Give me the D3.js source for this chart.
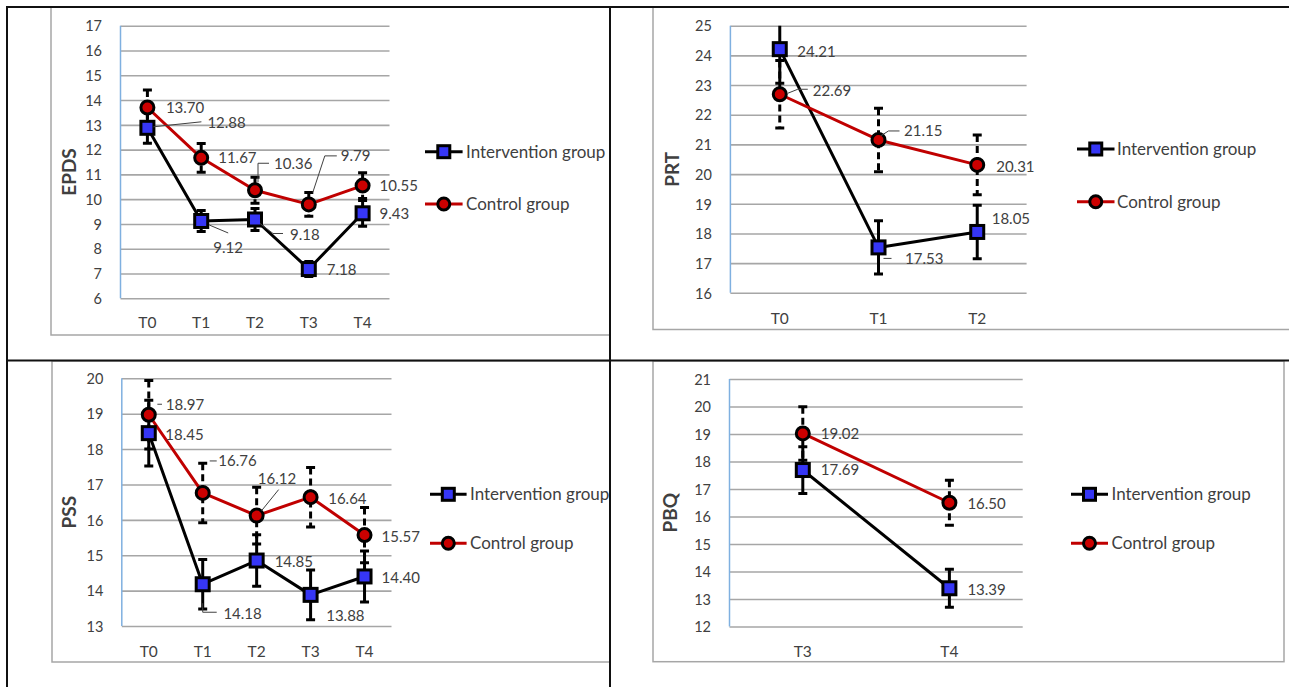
<!DOCTYPE html>
<html><head><meta charset="utf-8">
<script src="https://cdn.jsdelivr.net/npm/d3@7"></script>
<style>
body{margin:0;background:#fff}
svg{display:block}
text{font-family:Lato,"Open Sans",sans-serif;fill:#404040}
</style>
</head><body><svg id="c" width="1289" height="687"></svg>
<script>
// ---------- DATA ----------
const seriesNames = ["Intervention group", "Control group"];

const epdsCategories = ["T0", "T1", "T2", "T3", "T4"];
const epdsIntervention = [12.88, 9.12, 9.18, 7.18, 9.43];
const epdsControl = [13.70, 11.67, 10.36, 9.79, 10.55];
const epdsInterventionError = [0.62, 0.42, 0.44, 0.30, 0.52];
const epdsControlError = [0.71, 0.58, 0.52, 0.48, 0.52];
const epdsTicks = [6, 7, 8, 9, 10, 11, 12, 13, 14, 15, 16, 17];

const prtCategories = ["T0", "T1", "T2"];
const prtIntervention = [24.21, 17.53, 18.05];
const prtControl = [22.69, 21.15, 20.31];
const prtInterventionError = [1.15, 0.90, 0.90];
const prtControlError = [1.14, 1.07, 1.01];
const prtTicks = [16, 17, 18, 19, 20, 21, 22, 23, 24, 25];

const pssCategories = ["T0", "T1", "T2", "T3", "T4"];
const pssIntervention = [18.45, 14.18, 14.85, 13.88, 14.40];
const pssControl = [18.97, 16.76, 16.12, 16.64, 15.57];
const pssInterventionError = [0.93, 0.70, 0.73, 0.70, 0.72];
const pssControlError = [0.97, 0.84, 0.80, 0.84, 0.78];
const pssTicks = [13, 14, 15, 16, 17, 18, 19, 20];

const pbqCategories = ["T3", "T4"];
const pbqIntervention = [17.69, 13.39];
const pbqControl = [19.02, 16.50];
const pbqInterventionError = [0.85, 0.69];
const pbqControlError = [0.97, 0.82];
const pbqTicks = [12, 13, 14, 15, 16, 17, 18, 19, 20, 21];

// ---------- LAYOUT (label offsets relative to each point, leader paths) ----------
const epdsLabelsInt = [
  {dx: 60, dy: -5, lead: [[6,-1],[54,-6]]},
  {dx: 12, dy: 27, lead: [[8,4],[27,12]]},
  {dx: 35, dy: 15.5, lead: [[5,4],[18,14],[28,14]]},
  {dx: 18, dy: 1},
  {dx: 17, dy: 0}
];
const epdsLabelsCtl = [
  {dx: 18.5, dy: 0.5},
  {dx: 17, dy: 0},
  {dx: 19, dy: -27, lead: [[3,-8],[3,-27],[14,-27]]},
  {dx: 32, dy: -48.5, lead: [[4,-12],[16,-48.5],[28,-48.5]]},
  {dx: 17, dy: 0.5}
];
const prtLabelsInt = [
  {dx: 17.5, dy: 2},
  {dx: 26.5, dy: 11.7, lead: [[5,11],[13,11]]},
  {dx: 14.5, dy: -13}
];
const prtLabelsCtl = [
  {dx: 33, dy: -3.6, lead: [[8,-1],[18,-5],[28,-5]]},
  {dx: 25.5, dy: -9, lead: [[2,-4],[10,-9],[21,-9]]},
  {dx: 19, dy: 1.5}
];
const pssLabelsInt = [
  {dx: 16.5, dy: 1.8},
  {dx: 20.7, dy: 29, lead: [[0,19],[0,28],[14,28]]},
  {dx: 18, dy: 1},
  {dx: 15.6, dy: 21},
  {dx: 17, dy: 1}
];
const pssLabelsCtl = [
  {dx: 17, dy: -10.5, lead: [[8.6,-10.5],[13.2,-10.5]]},
  {dx: 15.6, dy: -32, lead: [[7,-32],[14,-32]]},
  {dx: 1.2, dy: -36.7, lead: [[5,-5],[22,-26]]},
  {dx: 17.6, dy: 1},
  {dx: 17, dy: 1.6}
];
const pbqLabelsInt = [{dx: 18, dy: 0}, {dx: 18, dy: 1.5}];
const pbqLabelsCtl = [{dx: 18, dy: 0.5}, {dx: 18, dy: 1}];

const svg = d3.select("#c");
const BLUE = "#3636f6", RED = "#c00000", DARK_RED = "#cc0000";

// ---------- TABLE FRAME ----------
const frame = svg.append("g");
[[51, 7, 610, 335], [653, 7, 1296, 329.5], [52, 361, 610, 662], [653, 361, 1284, 661.7]].forEach(b => {
  frame.append("rect").attr("x", b[0]).attr("y", b[1]).attr("width", b[2]-b[0]).attr("height", b[3]-b[1])
    .attr("fill", "none").attr("stroke", "#a6a6a6").attr("stroke-width", 1.5);
});

function fmt(v) { return d3.format(".2f")(v); }

function drawPanel(p) {
  const g = svg.append("g");
  const x = d3.scaleBand().domain(p.categories).range([p.x0, p.x1]);
  const y = d3.scaleLinear().domain([d3.min(p.ticks), d3.max(p.ticks)]).range([p.yBot, p.yTop]);
  const cx = c => x(c) + x.bandwidth() / 2;

  const ya = g.append("g").attr("transform", `translate(${p.x0},0)`)
    .call(d3.axisLeft(y).tickValues(p.ticks).tickFormat(d3.format("d"))
      .tickSizeInner(-(p.x1 - p.x0)).tickSizeOuter(0).tickPadding(18.5));
  ya.select(".domain").remove();
  ya.selectAll(".tick line").attr("stroke", "#a6a6a6").attr("stroke-width", 1.6);
  ya.selectAll(".tick text").attr("font-size", 14.5).attr("fill", "#404040")
    .attr("font-family", "Lato").attr("dy", "0.36em");
  g.append("line").attr("x1", p.x0).attr("x2", p.x0).attr("y1", p.yTop).attr("y2", p.yBot)
    .attr("stroke", "#7fb0e0").attr("stroke-width", 1.5);

  const xa = g.append("g").attr("transform", `translate(0,${p.catY})`)
    .call(d3.axisBottom(x).tickSize(0).tickPadding(0));
  xa.select(".domain").remove();
  xa.selectAll(".tick text").attr("font-size", 15.5).attr("fill", "#404040")
    .attr("font-family", "Lato").attr("y", 0).attr("dy", "0.36em");

  g.append("text").attr("transform", `translate(${p.titleX},${(p.yTop + p.yBot) / 2 + 10}) rotate(-90)`)
    .attr("text-anchor", "middle").attr("dy", "0.36em").attr("font-size", 19).attr("font-weight", 700)
    .attr("fill", "#333").text(p.title);

  const clipId = "clip" + p.title;
  g.append("clipPath").attr("id", clipId).append("rect")
    .attr("x", p.x0 - 20).attr("y", p.yTop).attr("width", p.x1 - p.x0 + 40).attr("height", p.yBot - p.yTop);

  const series = [
    {name: seriesNames[0], vals: p.intervention, err: p.intErr, color: "#000", lw: 3, dash: null, shape: "square", labels: p.labelsInt},
    {name: seriesNames[1], vals: p.control, err: p.ctlErr, color: RED, lw: 3, dash: "7,4", shape: "circle", labels: p.labelsCtl}
  ];
  const line = d3.line().x((d, i) => cx(p.categories[i])).y(d => y(d));

  series.forEach(s => {
    g.append("path").datum(s.vals).attr("d", line).attr("fill", "none")
      .attr("stroke", s.color).attr("stroke-width", s.lw).attr("stroke-linejoin", "round");
  });
  [series[1], series[0]].forEach(s => {
    const eg = g.append("g").attr("clip-path", `url(#${clipId})`);
    s.vals.forEach((v, i) => {
      const px = cx(p.categories[i]);
      eg.append("line").attr("x1", px).attr("x2", px).attr("y1", y(v + s.err[i])).attr("y2", y(v - s.err[i]))
        .attr("stroke", "#000").attr("stroke-width", 3).attr("stroke-dasharray", s.dash);
      [v + s.err[i], v - s.err[i]].forEach(e => {
        eg.append("line").attr("x1", px - 4.5).attr("x2", px + 4.5).attr("y1", y(e)).attr("y2", y(e))
          .attr("stroke", "#000").attr("stroke-width", 3);
      });
    });
  });
  series.forEach(s => {
    s.vals.forEach((v, i) => {
      const px = cx(p.categories[i]), py = y(v);
      if (s.shape === "square") {
        g.append("rect").attr("x", px - 6.5).attr("y", py - 6.5).attr("width", 13).attr("height", 13)
          .attr("fill", BLUE).attr("stroke", "#000").attr("stroke-width", 3);
      } else {
        g.append("circle").attr("cx", px).attr("cy", py).attr("r", 6.5)
          .attr("fill", DARK_RED).attr("stroke", "#000").attr("stroke-width", 3);
      }
    });
  });

  series.forEach(s => {
    s.vals.forEach((v, i) => {
      const px = cx(p.categories[i]), py = y(v), L = s.labels[i];
      if (L.lead) {
        g.append("path").attr("d", d3.line()(L.lead.map(q => [px + q[0], py + q[1]])))
          .attr("fill", "none").attr("stroke", "#404040").attr("stroke-width", 1);
      }
      g.append("text").attr("x", px + L.dx).attr("y", py + L.dy).attr("dy", "0.36em")
        .attr("font-size", 15).attr("fill", "#404040").text(fmt(v));
    });
  });

  series.forEach((s, k) => {
    const ly = k === 0 ? p.leg.y1 : p.leg.y2;
    const mx = (p.leg.x0 + p.leg.x1) / 2;
    g.append("line").attr("x1", p.leg.x0).attr("x2", p.leg.x1).attr("y1", ly).attr("y2", ly)
      .attr("stroke", s.color).attr("stroke-width", s.lw);
    if (s.shape === "square") {
      g.append("rect").attr("x", mx - 6).attr("y", ly - 6).attr("width", 12).attr("height", 12)
        .attr("fill", BLUE).attr("stroke", "#000").attr("stroke-width", 3);
    } else {
      g.append("circle").attr("cx", mx).attr("cy", ly).attr("r", 6)
        .attr("fill", DARK_RED).attr("stroke", "#000").attr("stroke-width", 3);
    }
    g.append("text").attr("x", p.leg.tx).attr("y", ly).attr("dy", "0.36em").attr("font-size", 17)
      .attr("fill", "#404040").text(s.name);
  });
}

drawPanel({title: "EPDS", categories: epdsCategories, intervention: epdsIntervention, control: epdsControl,
  intErr: epdsInterventionError, ctlErr: epdsControlError, ticks: epdsTicks,
  labelsInt: epdsLabelsInt, labelsCtl: epdsLabelsCtl,
  x0: 120.5, x1: 389.5, yTop: 25.7, yBot: 298.3, catY: 322, titleX: 69,
  leg: {x0: 425, x1: 462.6, tx: 466, y1: 151.7, y2: 204}});

drawPanel({title: "PRT", categories: prtCategories, intervention: prtIntervention, control: prtControl,
  intErr: prtInterventionError, ctlErr: prtControlError, ticks: prtTicks,
  labelsInt: prtLabelsInt, labelsCtl: prtLabelsCtl,
  x0: 730.4, x1: 1026.6, yTop: 25.7, yBot: 292.8, catY: 318, titleX: 672,
  leg: {x0: 1077, x1: 1114.5, tx: 1117, y1: 149, y2: 201.7}});

drawPanel({title: "PSS", categories: pssCategories, intervention: pssIntervention, control: pssControl,
  intErr: pssInterventionError, ctlErr: pssControlError, ticks: pssTicks,
  labelsInt: pssLabelsInt, labelsCtl: pssLabelsCtl,
  x0: 121.8, x1: 391.5, yTop: 378.3, yBot: 626, catY: 651, titleX: 69,
  leg: {x0: 430, x1: 466.6, tx: 470, y1: 494.3, y2: 543.3}});

drawPanel({title: "PBQ", categories: pbqCategories, intervention: pbqIntervention, control: pbqControl,
  intErr: pbqInterventionError, ctlErr: pbqControlError, ticks: pbqTicks,
  labelsInt: pbqLabelsInt, labelsCtl: pbqLabelsCtl,
  x0: 729.5, x1: 1022.7, yTop: 379, yBot: 626.5, catY: 651, titleX: 670.6,
  leg: {x0: 1071, x1: 1108, tx: 1111.5, y1: 494.3, y2: 543.3}});

const tl = svg.append("g").attr("stroke", "#111").attr("stroke-width", 2);
tl.append("line").attr("x1", 6).attr("x2", 1289).attr("y1", 7).attr("y2", 7);
tl.append("line").attr("x1", 6).attr("x2", 1289).attr("y1", 360.5).attr("y2", 360.5);
tl.append("line").attr("x1", 7).attr("x2", 7).attr("y1", 6).attr("y2", 687);
tl.append("line").attr("x1", 610).attr("x2", 610).attr("y1", 6).attr("y2", 687);
</script>
</body></html>
